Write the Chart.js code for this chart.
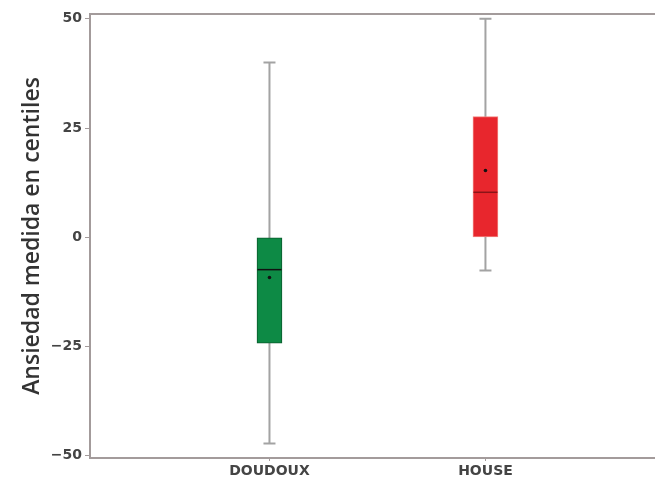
<!DOCTYPE html>
<html>
<head>
<meta charset="utf-8">
<script src="https://cdn.jsdelivr.net/npm/chart.js@4"></script>
<style>
    html, body { margin: 0; padding: 0; background: #fff; }
    #wrap { width: 655px; height: 482px; }
</style>
</head>
<body>
<div id="wrap"><canvas id="boxChart"></canvas></div>
<script>
// box plot values
const categories = ['DOUDOUX', 'HOUSE'];
const whiskerLow = [-47.2, -7.6];
const q1 = [-24.2, 0];
const median = [-7.4, 10.3];
const q3 = [0, 27.6];
const whiskerHigh = [40, 50];
const means = [-9.2, 15.3];
const yTicks = [-50, -25, 0, 25, 50];

const boxColors = ['#0d8a45', '#e8262d'];
const boxBorders = ['#0a5a2c', '#f2837f'];
const medianColors = ['#111', '#8a1418'];
const axisColor = '#a39b9b';

const boxExtras = {
    id: 'boxExtras',
    beforeDatasetsDraw(chart) {
        const { ctx, scales: { x, y } } = chart;
        ctx.save();
        ctx.strokeStyle = '#a3a3a3';
        ctx.lineWidth = 2;
        categories.forEach((c, i) => {
            const px = x.getPixelForValue(i + 1);
            const lo = y.getPixelForValue(whiskerLow[i]);
            const hi = y.getPixelForValue(whiskerHigh[i]);
            ctx.beginPath();
            ctx.moveTo(px, lo);
            ctx.lineTo(px, hi);
            ctx.moveTo(px - 6, lo);
            ctx.lineTo(px + 6, lo);
            ctx.moveTo(px - 6, hi);
            ctx.lineTo(px + 6, hi);
            ctx.stroke();
        });
        ctx.restore();
    },
    afterDatasetsDraw(chart) {
        const { ctx, scales: { x, y } } = chart;
        ctx.save();
        categories.forEach((c, i) => {
            const px = x.getPixelForValue(i + 1);
            const my = y.getPixelForValue(median[i]);
            ctx.strokeStyle = medianColors[i];
            ctx.lineWidth = 1.5;
            ctx.beginPath();
            ctx.moveTo(px - 12, my);
            ctx.lineTo(px + 12, my);
            ctx.stroke();
            ctx.fillStyle = '#111';
            ctx.beginPath();
            ctx.arc(px, y.getPixelForValue(means[i]), 1.8, 0, Math.PI * 2);
            ctx.fill();
        });
        ctx.restore();
    },
    afterDraw(chart) {
        const { ctx, chartArea } = chart;
        ctx.save();
        ctx.strokeStyle = axisColor;
        ctx.lineWidth = 2;
        ctx.beginPath();
        ctx.moveTo(chartArea.left, chartArea.top);
        ctx.lineTo(chartArea.right, chartArea.top);
        ctx.stroke();
        ctx.restore();
    }
};

const ctx = document.getElementById('boxChart').getContext('2d');
new Chart(ctx, {
    type: 'bar',
    data: {
        datasets: [{
            data: categories.map((c, i) => ({ x: i + 1, y: [q1[i], q3[i]] })),
            backgroundColor: boxColors,
            borderColor: boxBorders,
            borderWidth: 1,
            borderSkipped: false,
            barThickness: 25
        }]
    },
    options: {
        responsive: true,
        maintainAspectRatio: false,
        animation: false,
        layout: { padding: { top: 14, left: 0, right: 0, bottom: 0 } },
        plugins: {
            legend: { display: false },
            tooltip: { enabled: false }
        },
        scales: {
            x: {
                type: 'linear',
                offset: false,
                min: 0.169,
                max: 2.785,
                afterBuildTicks: scale => {
                    scale.ticks = categories.map((c, i) => ({ value: i + 1 }));
                },
                afterFit: scale => { scale.height = 24; },
                border: { color: axisColor, width: 2 },
                grid: { drawOnChartArea: false, offset: false, tickLength: 3, color: axisColor },
                ticks: {
                    color: '#444',
                    padding: 2,
                    font: { family: 'DejaVu Sans', size: 14, weight: 'bold' },
                    callback: v => categories[v - 1] || ''
                }
            },
            y: {
                min: -50.5,
                max: 51.1,
                afterBuildTicks: scale => {
                    scale.ticks = yTicks.map(v => ({ value: v }));
                },
                afterFit: scale => { scale.width = 90; },
                border: { color: axisColor, width: 2 },
                grid: { drawOnChartArea: false, tickLength: 5, color: axisColor },
                ticks: {
                    color: '#444',
                    padding: 3,
                    font: { family: 'DejaVu Sans', size: 14, weight: 'bold' },
                    callback: v => String(v).replace('-', '\u2212')
                },
                title: {
                    display: true,
                    text: 'Ansiedad medida en centiles',
                    color: '#333',
                    padding: { top: 19, bottom: 0 },
                    font: { family: 'Open Sans', size: 23, weight: '600' }
                }
            }
        }
    },
    plugins: [boxExtras]
});
</script>
</body>
</html>
